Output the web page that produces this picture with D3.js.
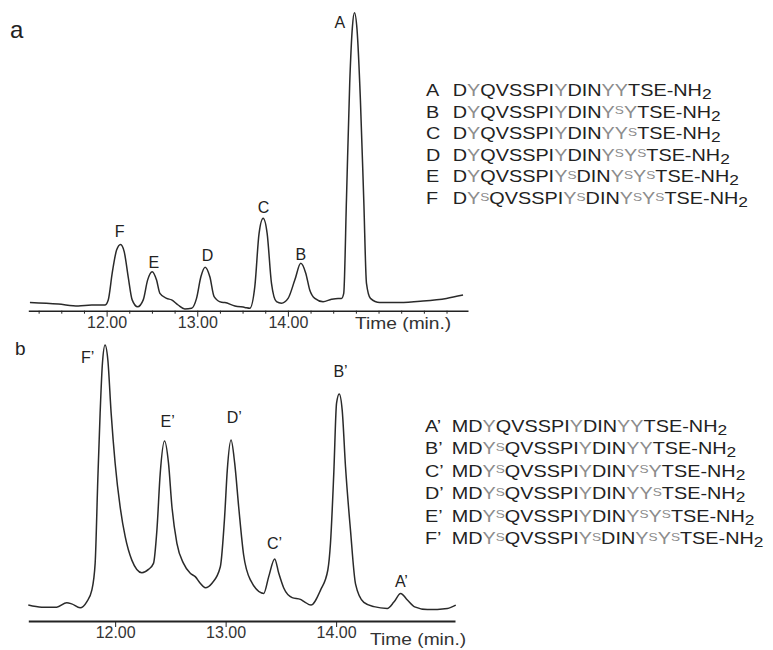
<!DOCTYPE html>
<html>
<head>
<meta charset="utf-8">
<script src="https://cdn.jsdelivr.net/npm/d3@7"></script>
<style>
  body { margin: 0; background: #fff; }
  svg { display: block; }
</style>
</head>
<body>
<div id="chart"></div>
<script>
// chromatogram a: retention time (min) and detector signal (relative units)
var timeA = [11.154, 11.466, 11.687, 11.835, 11.981, 12.018, 12.062, 12.110, 12.154, 12.194, 12.238, 12.282, 12.342, 12.404, 12.452, 12.503, 12.551, 12.588, 12.662, 12.717, 12.789, 12.863, 12.937, 12.992, 13.040, 13.087, 13.139, 13.186, 13.268, 13.304, 13.415, 13.525, 13.580, 13.635, 13.682, 13.727, 13.771, 13.819, 13.874, 13.929, 14.002, 14.076, 14.142, 14.197, 14.241, 14.297, 14.388, 14.481, 14.553, 14.591, 14.616, 14.646, 14.682, 14.712, 14.734, 14.763, 14.800, 14.837, 14.867, 14.911, 15.013, 15.234, 15.491, 15.749, 15.932];
var signalA = [2.7, 2.2, 1.6, 1.9, 1.9, 3.6, 12.6, 20.2, 22.1, 19.7, 11.3, 3.6, 1.3, 3.6, 10.2, 13.0, 10.2, 5.8, 4.1, 3.6, 1.9, 0.6, 0.8, 4.1, 11.3, 14.5, 11.3, 4.7, 2.8, 2.7, 1.6, 1.1, 0.8, 8.0, 25.8, 30.8, 25.8, 9.1, 3.0, 2.5, 4.1, 10.2, 15.8, 12.5, 6.9, 4.1, 3.0, 3.8, 4.1, 4.1, 5.8, 36.9, 75.8, 94.7, 99.3, 93.6, 70.2, 36.9, 9.1, 4.1, 2.7, 2.7, 3.2, 4.1, 5.2];

// chromatogram b
var timeB = [11.214, 11.335, 11.471, 11.562, 11.607, 11.683, 11.743, 11.789, 11.819, 11.843, 11.864, 11.885, 11.909, 11.934, 11.964, 12.000, 12.045, 12.091, 12.151, 12.242, 12.302, 12.347, 12.378, 12.408, 12.447, 12.483, 12.514, 12.559, 12.619, 12.680, 12.725, 12.770, 12.816, 12.877, 12.952, 12.991, 13.015, 13.049, 13.082, 13.118, 13.163, 13.224, 13.345, 13.390, 13.444, 13.481, 13.526, 13.602, 13.677, 13.713, 13.772, 13.859, 13.925, 13.949, 13.979, 14.004, 14.028, 14.055, 14.085, 14.130, 14.176, 14.251, 14.342, 14.463, 14.523, 14.584, 14.645, 14.711, 14.826, 15.007, 15.083];
var signalB = [5.3, 4.6, 4.6, 6.1, 5.7, 4.4, 6.4, 10.3, 19.2, 47.0, 69.2, 85.9, 92.0, 87.0, 69.2, 52.6, 38.1, 28.1, 20.3, 16.1, 17.2, 19.2, 30.3, 49.2, 60.0, 52.6, 38.1, 25.9, 19.2, 15.9, 14.8, 12.6, 11.1, 12.6, 18.1, 34.8, 50.3, 60.3, 52.6, 38.1, 22.0, 13.7, 9.2, 14.8, 20.7, 15.9, 11.0, 7.8, 7.2, 6.4, 5.3, 10.3, 17.0, 25.9, 49.3, 72.6, 75.7, 70.3, 51.4, 30.3, 12.3, 6.2, 4.8, 4.2, 6.3, 9.2, 7.0, 4.7, 3.8, 4.2, 5.3];

// peak labels: name, time, signal where the label sits
var peakNamesA = ["A", "B", "C", "D", "E", "F"];
var peakTimesA = [14.572, 14.142, 13.731, 13.114, 12.521, 12.143];
var peakLevelsA = [94.1, 16.9, 32.6, 16.7, 14.2, 24.7];

var peakNamesB = ["A’", "B’", "C’", "D’", "E’", "F’"];
var peakTimesB = [14.591, 14.040, 13.442, 13.079, 12.476, 11.751];
var peakLevelsB = [11.4, 81.2, 23.9, 65.9, 64.8, 86.1];

// tick labels
var majorTicks = [12, 13, 14];
var minorTicksA = [11.25, 11.5, 11.75, 12.25, 12.5, 12.75, 13.25, 13.5, 13.75, 14.25, 14.5, 14.75, 15, 15.25, 15.5, 15.75];
var axisTitle = "Time (min.)";

// legend sequences: Y = tyrosine (grey), s = sulfate on the preceding Y, 2 = subscript
var seqA = ["DYQVSSPIYDINYYTSE-NH2", "DYQVSSPIYDINYsYTSE-NH2", "DYQVSSPIYDINYYsTSE-NH2",
  "DYQVSSPIYDINYsYsTSE-NH2", "DYQVSSPIYsDINYsYsTSE-NH2", "DYsQVSSPIYsDINYsYsTSE-NH2"];
var seqB = ["MDYQVSSPIYDINYYTSE-NH2", "MDYsQVSSPIYDINYYTSE-NH2", "MDYsQVSSPIYDINYsYTSE-NH2",
  "MDYsQVSSPIYDINYYsTSE-NH2", "MDYsQVSSPIYDINYsYsTSE-NH2", "MDYsQVSSPIYsDINYsYsTSE-NH2"];

var font = "'Liberation Sans', Arial, sans-serif";
var ink = "#222";
var grey = "#8c8c8c";

var svg = d3.select("#chart")
  .append("svg")
  .attr("width", 773)
  .attr("height", 650)
  .style("font-family", font);

// Scales
var xA = d3.scaleLinear().domain([11.136, 15.987]).range([28.3, 468]);
var yA = d3.scaleLinear().domain([0, 100]).range([310.7, 10.7]);
var xB = d3.scaleLinear().domain([11.214, 15.076]).range([28.3, 455]);
var yB = d3.scaleLinear().domain([0, 100]).range([621, 321]);

function drawTrace(times, values, x, y) {
  var line = d3.line()
    .x(d => x(d[0]))
    .y(d => y(d[1]))
    .curve(d3.curveMonotoneX);
  svg.append("path")
    .datum(d3.zip(times, values))
    .attr("d", line)
    .attr("fill", "none")
    .attr("stroke", "#2a2a2a")
    .attr("stroke-width", 1.5)
    .attr("stroke-linejoin", "round");
}

function drawAxis(x, yPos, lineW, minor, titleX, titleY) {
  if (minor) {
    var mg = svg.append("g")
      .attr("transform", `translate(0, ${yPos})`)
      .call(d3.axisBottom(x).tickValues(minor).tickFormat("").tickSize(3).tickSizeOuter(0));
    mg.select(".domain").remove();
    mg.selectAll(".tick line").attr("stroke", ink);
  }
  var g = svg.append("g")
    .attr("transform", `translate(0, ${yPos})`)
    .call(d3.axisBottom(x).tickValues(majorTicks).tickFormat(d3.format(".2f")).tickSize(6).tickSizeOuter(0));
  g.attr("font-family", font);
  g.select(".domain").attr("stroke", ink).attr("stroke-width", lineW);
  g.selectAll(".tick line").attr("stroke", ink);
  g.selectAll(".tick text")
    .attr("font-size", 16)
    .attr("fill", "#333")
    .attr("y", 6);

  svg.append("text")
    .attr("transform", `translate(${titleX}, ${titleY}) scale(1.2, 1)`)
    .attr("font-size", 16)
    .attr("fill", "#333")
    .text(axisTitle);
}

function drawPeakLabels(names, times, levels, x, y) {
  svg.selectAll(null)
    .data(names)
    .enter()
    .append("text")
    .attr("x", (d, i) => x(times[i]))
    .attr("y", (d, i) => y(levels[i]))
    .attr("text-anchor", "middle")
    .attr("font-size", 16)
    .attr("fill", ink)
    .text(d => d);
}

function addSequence(text, seq) {
  var cur = 0;
  function piece(str, color, size, off) {
    text.append("tspan")
      .attr("fill", color)
      .attr("font-size", size)
      .attr("dy", off - cur)
      .text(str);
    cur = off;
  }
  for (var i = 0; i < seq.length; i++) {
    var c = seq[i];
    if (c == "Y") piece("Y", grey, 16, 0);
    else if (c == "s") piece("S", grey, 11, -3.5);
    else if (c == "2") piece("2", ink, 14, 3);
    else piece(c, ink, 16, 0);
  }
}

function drawLegend(names, seqs, x0, y0, step) {
  names.forEach(function(name, i) {
    var row = svg.append("g")
      .attr("transform", `translate(${x0}, ${y0 + i * step}) scale(1.24, 1)`);
    row.append("text")
      .attr("font-size", 16)
      .attr("fill", ink)
      .text(name);
    var t = row.append("text")
      .attr("x", 21.5)
      .attr("font-size", 16)
      .attr("fill", ink);
    addSequence(t, seqs[i]);
  });
}

// Panel a
drawTrace(timeA, signalA, xA, yA);
drawAxis(xA, 310.7, 1.5, minorTicksA, 355, 328.5);
drawPeakLabels(peakNamesA, peakTimesA, peakLevelsA, xA, yA);
drawLegend(peakNamesA, seqA, 426, 96, 21.6);

// Panel b
drawTrace(timeB, signalB, xB, yB);
drawAxis(xB, 621, 2, null, 370, 645);
drawPeakLabels(peakNamesB, peakTimesB, peakLevelsB, xB, yB);
drawLegend(peakNamesB, seqB, 425, 432, 22.4);

// panel letters
svg.append("text").attr("x", 10).attr("y", 38).attr("font-size", 24).attr("fill", ink).text("a");
svg.append("text").attr("x", 15).attr("y", 355).attr("font-size", 19).attr("fill", ink).text("b");
</script>
</body>
</html>
